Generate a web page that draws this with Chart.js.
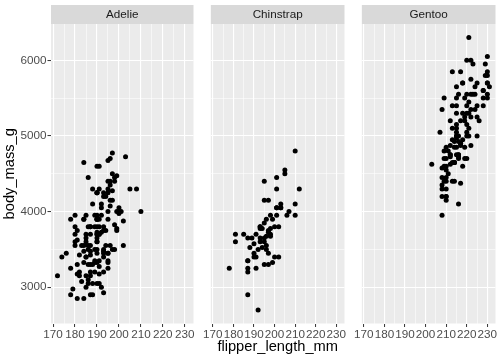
<!DOCTYPE html>
<html><head><meta charset="utf-8">
<script src="https://cdn.jsdelivr.net/npm/chart.js@4.4.1/dist/chart.umd.min.js"></script>
<style>
html,body{margin:0;padding:0;background:#fff;width:504px;height:360px;overflow:hidden}
canvas{position:absolute;top:0}
</style></head><body>
<canvas id="c1" width="196" height="360" style="left:0px"></canvas>
<canvas id="c2" width="145" height="360" style="left:202px"></canvas>
<canvas id="c3" width="145" height="360" style="left:353px"></canvas>
<script>
const species = ['Adelie', 'Chinstrap', 'Gentoo'];
const xTitle = 'flipper_length_mm';
const yTitle = 'body_mass_g';
const xMajorTicks = [170, 180, 190, 200, 210, 220, 230];
const xMinorTicks = [175, 185, 195, 205, 215, 225];
const yMajorTicks = [3000, 4000, 5000, 6000];
const yMinorTicks = [3500, 4500, 5500];
const xRange = [169.05, 233.95];
const yRange = [2520, 6480];

const adelieFlipper = [181,186,195,193,190,181,195,193,190,186,180,182,191,198,185,195,197,184,194,174,180,189,185,180,187,183,187,172,180,178,178,188,184,195,196,190,180,181,184,182,195,186,196,185,190,182,179,190,191,186,188,190,200,187,191,186,193,181,194,185,195,185,192,184,192,195,188,190,198,190,190,196,197,190,195,191,184,187,195,189,196,187,193,191,194,190,189,189,190,202,205,185,186,187,208,190,196,178,192,192,203,183,190,193,184,199,190,181,197,198,191,193,197,191,196,188,199,189,189,187,198,176,202,186,199,191,195,191,210,190,197,193,199,187,190,191,200,185,193,193,187,188,190,192,185,190,184,195,193,187,201];
const adelieMass = [3750,3800,3250,3450,3650,3625,4675,3475,4250,3300,3700,3200,3800,4400,3700,3450,4500,3325,4200,3400,3600,3800,3950,3800,3800,3550,3200,3150,3950,3250,3900,3300,3900,3325,4150,3950,3550,3300,4650,3150,3900,3100,4400,3000,4600,3425,2975,3500,4300,3500,4300,3450,4050,2900,3700,3550,3800,2850,3750,3150,4400,3600,4050,2850,3950,3350,4100,3050,4450,3600,3900,3550,4150,3700,4250,3700,3900,3550,4000,3200,4700,3800,4200,3350,3550,3800,3500,3950,3600,3550,4300,3400,4450,3300,4300,3700,4350,2900,4100,3725,4725,3075,4250,2925,3550,3750,3900,3175,4775,3825,4600,3200,4275,3900,4075,2900,3775,3350,3325,3150,3500,3450,3875,3050,4000,3275,4300,3050,4000,3325,3500,3500,4475,3425,3900,3175,3975,3400,4250,3400,3475,3050,3725,3000,3650,4250,3475,3450,3750,3700,4000];

const chinstrapFlipper = [192,196,193,188,197,198,178,197,195,198,193,194,185,201,190,201,197,181,190,195,181,191,187,193,195,197,200,200,191,205,187,201,187,203,195,199,195,210,192,205,210,187,196,196,196,201,190,212,187,198,199,201,193,203,187,197,191,203,202,194,206,189,195,207,202,193,210,198];
const chinstrapMass = [3500,3900,3650,3525,3725,3950,3250,3750,4150,3700,3800,3775,3700,4050,3575,4050,3300,3700,3450,4400,3600,3400,2900,3800,3300,4150,3400,3800,3700,4550,3200,4300,3350,4100,3600,3900,3850,4800,2700,4500,3950,3650,3550,3500,3675,4450,3400,4300,3250,3675,3325,3950,3600,4050,3350,3450,3250,4050,3800,3525,3950,3650,3650,4000,3400,3775,4100,3775];

const gentooFlipper = [211,230,210,218,215,210,211,219,209,215,214,216,214,213,210,217,210,221,209,222,218,215,213,215,215,215,216,215,210,220,222,209,207,230,220,220,213,219,208,208,208,225,210,216,222,217,210,225,213,215,210,220,210,225,217,220,208,220,208,224,208,221,214,231,219,230,214,229,220,223,216,221,221,217,216,230,209,220,215,223,212,221,212,224,212,228,218,218,212,230,218,228,212,224,214,226,216,222,203,225,219,228,215,228,216,215,210,219,208,209,216,229,213,230,217,230,217,222,214,215,222,212,213];
const gentooMass = [4500,5700,4450,5700,5400,4550,4800,5200,4400,5150,4650,5550,4650,5850,4200,5850,4150,6300,4800,5350,5700,5000,4400,5050,5000,5100,4100,5650,4600,5550,5250,4700,5050,6050,5150,5400,4950,5250,4350,5350,3950,5700,4300,4750,5550,4900,4200,5400,5100,5300,4850,5300,4400,5000,4900,5050,4300,5000,4450,5550,4200,5300,4400,5650,4700,5700,4650,5800,4700,5550,4750,5000,5100,5200,4700,5800,4600,6000,4750,5950,4625,5450,4725,5350,4750,5600,4600,5300,4875,5550,4950,5400,4750,5650,4850,5200,4925,4875,4625,5250,4850,5600,4975,5500,4725,5500,4700,5500,4575,5500,5000,5950,4650,5500,4375,5850,4875,6000,4925,4850,5750,5200,5400];

const FONT = '"Liberation Sans", Arial, Helvetica, sans-serif';

const facetPlugin = {
  id: 'facet',
  beforeDraw(chart, args, o) {
    const {ctx, chartArea: a} = chart;
    ctx.save();
    ctx.fillStyle = '#EBEBEB';
    ctx.fillRect(a.left, a.top, a.right - a.left, a.bottom - a.top);
    ctx.fillStyle = '#D9D9D9';
    ctx.fillRect(a.left, 5, a.right - a.left, a.top - 5);
    ctx.fillStyle = '#1A1A1A';
    ctx.font = '11.7px ' + FONT;
    ctx.textAlign = 'center';
    ctx.textBaseline = 'middle';
    ctx.fillText(o.label, (a.left + a.right) / 2, (5 + a.top) / 2 + 0.5);
    ctx.restore();
  }
};

function makePanel(id, idx, xs, ys) {
  const first = idx === 0;
  const middle = idx === 1;
  const pts = xs.map((x, i) => ({x: x, y: ys[i]}));
  const xAll = xMajorTicks.concat(xMinorTicks).sort((a, b) => a - b);
  const yAll = yMajorTicks.concat(yMinorTicks).sort((a, b) => a - b);
  new Chart(document.getElementById(id), {
    type: 'scatter',
    data: {datasets: [{data: pts, backgroundColor: '#000000', borderWidth: 0, pointRadius: 2.5, pointHoverRadius: 2.5}]},
    plugins: [facetPlugin],
    options: {
      responsive: false,
      animation: false,
      events: [],
      layout: {padding: {top: 24, left: 0, right: 0, bottom: 0}},
      plugins: {legend: {display: false}, tooltip: {enabled: false}, facet: {label: species[idx]}},
      scales: {
        x: {
          type: 'linear', min: xRange[0], max: xRange[1],
          afterBuildTicks: s => { s.ticks = xAll.map(v => ({value: v})); },
          afterFit: s => { s.height = 36.5; },
          border: {display: false},
          grid: {
            color: '#FFFFFF',
            lineWidth: c => (c.tick && xMajorTicks.includes(c.tick.value)) ? 1.1 : 0.55,
            drawTicks: true, tickLength: 3.5, tickWidth: 1,
            tickColor: c => (c.tick && xMajorTicks.includes(c.tick.value)) ? '#333333' : 'rgba(0,0,0,0)'
          },
          ticks: {
            autoSkip: false, maxRotation: 0, minRotation: 0, padding: 1,
            color: '#4D4D4D', font: {family: FONT, size: 11.7},
            callback: v => xMajorTicks.includes(v) ? String(v) : ''
          },
          title: {display: middle, text: xTitle, color: '#000000', font: {family: FONT, size: 14.67}, padding: {top: 0, bottom: 4}}
        },
        y: {
          type: 'linear', min: yRange[0], max: yRange[1],
          afterBuildTicks: s => { s.ticks = yAll.map(v => ({value: v})); },
          afterFit: s => { s.width = first ? 51 : 0; },
          border: {display: false},
          grid: {
            color: '#FFFFFF',
            lineWidth: c => (c.tick && yMajorTicks.includes(c.tick.value)) ? 1.1 : 0.55,
            drawTicks: first, tickLength: 3.5, tickWidth: 1,
            tickColor: c => (c.tick && yMajorTicks.includes(c.tick.value)) ? '#333333' : 'rgba(0,0,0,0)'
          },
          ticks: {
            display: first, autoSkip: false, padding: 1,
            color: '#4D4D4D', font: {family: FONT, size: 11.7},
            callback: v => yMajorTicks.includes(v) ? String(v) : ''
          },
          title: {display: first, text: yTitle, color: '#000000', font: {family: FONT, size: 14.67}, padding: {top: 1, bottom: 0}}
        }
      }
    }
  });
}

makePanel('c1', 0, adelieFlipper, adelieMass);
makePanel('c2', 1, chinstrapFlipper, chinstrapMass);
makePanel('c3', 2, gentooFlipper, gentooMass);
</script>
</body></html>
